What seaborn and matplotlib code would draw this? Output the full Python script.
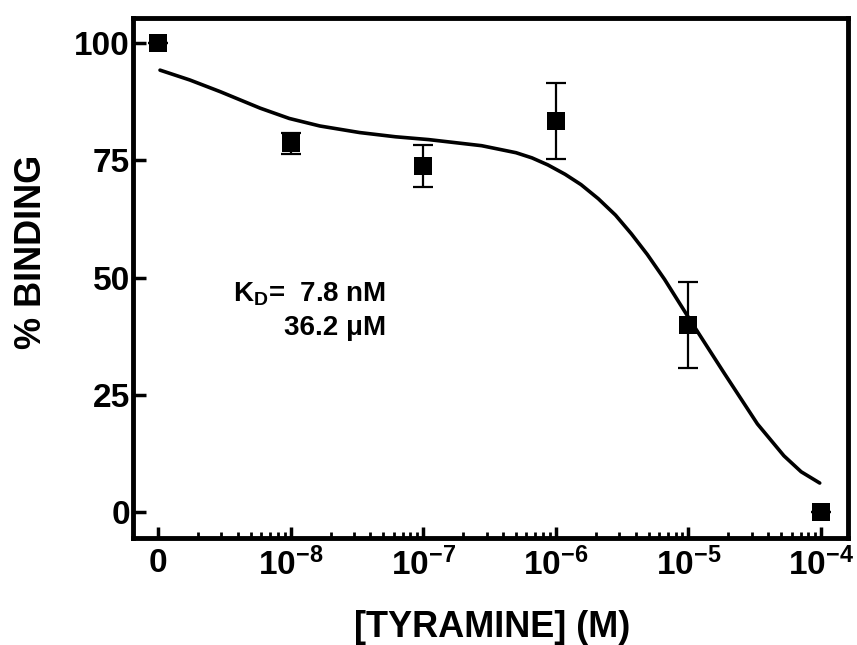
import numpy as np
import pandas as pd
import seaborn as sns
import matplotlib.pyplot as plt
from matplotlib.ticker import FixedLocator, FixedFormatter, NullFormatter

# measured binding (the "0" point is drawn one decade left of 10^-8)
conc = [0, 1e-8, 1e-7, 1e-6, 1e-5, 1e-4]
binding = [100.0, 78.6, 73.8, 83.4, 39.9, 0.0]
binding_err = [0.0, 2.2, 4.4, 8.1, 9.1, 0.0]
zero_pos = 1e-9

# fitted curve (log10 of concentration, % binding)
curve_logx = [-8.985, -8.76, -8.53, -8.23, -8.01, -7.78, -7.48, -7.21, -6.96,
              -6.56, -6.30, -6.18, -6.06, -5.93, -5.81, -5.68, -5.55, -5.43,
              -5.31, -5.18, -4.98, -4.73, -4.48, -4.28, -4.15, -4.01]
curve_y = [94.2, 92.1, 89.6, 86.1, 83.9, 82.3, 80.9, 80.0, 79.4,
           78.1, 76.6, 75.5, 74.0, 72.0, 69.8, 66.8, 63.3, 59.3,
           54.9, 49.6, 40.6, 29.6, 18.8, 12.0, 8.6, 6.2]

xtick_pos = [1e-9, 1e-8, 1e-7, 1e-6, 1e-5, 1e-4]
xtick_labels = ["0", "$10^{-8}$", "$10^{-7}$", "$10^{-6}$", "$10^{-5}$", "$10^{-4}$"]
yticks = [0, 25, 50, 75, 100]

sns.set_style("ticks")
plt.rcParams["font.family"] = ["Liberation Sans", "DejaVu Sans"]
plt.rcParams["font.weight"] = "bold"
plt.rcParams["mathtext.fontset"] = "custom"
plt.rcParams["mathtext.rm"] = "Liberation Sans:bold"
plt.rcParams["mathtext.it"] = "Liberation Sans:bold"
plt.rcParams["mathtext.bf"] = "Liberation Sans:bold"
for key in ["text.color", "axes.labelcolor", "xtick.color", "ytick.color", "axes.edgecolor"]:
    plt.rcParams[key] = "black"

pts = pd.DataFrame({"x": [zero_pos if c == 0 else c for c in conc],
                    "y": binding, "err": binding_err})
curve = pd.DataFrame({"x": 10 ** np.array(curve_logx), "y": curve_y})

fig = plt.figure(figsize=(8.57, 6.45), dpi=100)
ax = fig.add_axes([0.155, 0.166, 0.834, 0.806])
ax.set_xscale("log")

sns.lineplot(data=curve, x="x", y="y", color="black", lw=2.6, ax=ax)
ax.errorbar(pts["x"], pts["y"], yerr=pts["err"], fmt="none", ecolor="black",
            elinewidth=1.6, capsize=7, capthick=1.6, zorder=3)
sns.scatterplot(data=pts, x="x", y="y", marker="s", s=175, color="black",
                edgecolor="black", linewidth=0, zorder=4, ax=ax)

ax.set_xlim(10 ** -9.19, 10 ** -3.8)
ax.set_ylim(-5.5, 105.3)

ax.xaxis.set_major_locator(FixedLocator(xtick_pos))
ax.xaxis.set_major_formatter(FixedFormatter(xtick_labels))
minor = [m * 10.0 ** e for e in range(-9, -4) for m in range(2, 10)]
ax.xaxis.set_minor_locator(FixedLocator(minor))
ax.xaxis.set_minor_formatter(NullFormatter())
ax.set_yticks(yticks)
ax.set_yticklabels([str(v) for v in yticks])

ax.tick_params(axis="x", which="major", direction="in", length=8, width=2.5,
               labelsize=24, pad=7, top=False, colors="black")
ax.tick_params(axis="x", which="minor", direction="in", length=4, width=2,
               top=False, colors="black")
ax.tick_params(axis="y", direction="in", length=9, width=2.5, labelsize=24,
               pad=2, right=False, colors="black")
for lab in ax.get_xticklabels() + ax.get_yticklabels():
    lab.set_fontweight("bold")

for sp in ax.spines.values():
    sp.set_visible(True)
    sp.set_linewidth(3.5)
    sp.set_color("black")

ax.set_xlabel("[TYRAMINE] (M)", fontsize=26, fontweight="bold", va="top", color="black")
ax.xaxis.set_label_coords(0.503, -0.138)
ax.set_ylabel("")
fig.text(32 / 857, 1 - 252 / 645, "% BINDING", rotation=90, fontsize=26,
         fontweight="bold", ha="center", va="center", color="black")

ax.text(0.355, 0.454, "K$_{\\mathrm{D}}$=  7.8 nM", transform=ax.transAxes,
        fontsize=20, fontweight="bold", ha="right", va="baseline", color="black")
ax.text(0.355, 0.390, "36.2 μM", transform=ax.transAxes,
        fontsize=20, fontweight="bold", ha="right", va="baseline", color="black")

fig.savefig("out.png", dpi=100)
